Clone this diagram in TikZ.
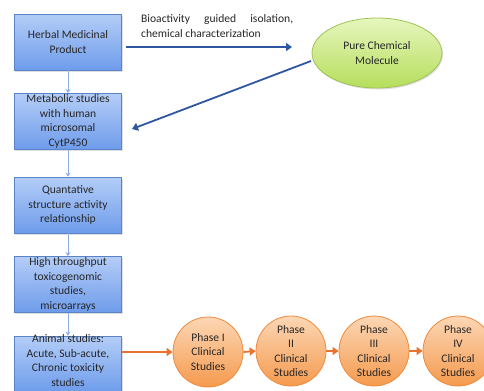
\documentclass[tikz,border=0pt]{standalone}
\usepackage{fontspec}
\setmainfont{Carlito}
\usetikzlibrary{arrows.meta,shapes.geometric,shadows}
\definecolor{boxtop}{HTML}{B4CDF7}
\definecolor{boxbot}{HTML}{6E9CEB}
\definecolor{boxline}{HTML}{5B84C8}
\definecolor{darkarrow}{HTML}{2F56A0}
\definecolor{lightarrow}{HTML}{8FAEE0}
\definecolor{eltop}{HTML}{E6F6BE}
\definecolor{elbot}{HTML}{B6DE5C}
\definecolor{elline}{HTML}{9FC255}
\definecolor{ortop}{HTML}{FCD7B5}
\definecolor{orbot}{HTML}{F59A4E}
\definecolor{orline}{HTML}{F08A3C}
\definecolor{orarrow}{HTML}{E8722E}
\definecolor{txt}{HTML}{262626}
\tikzset{
  stepbox/.style={draw=boxline, line width=0.8bp, top color=boxtop, bottom color=boxbot,
    minimum width=107bp, minimum height=56bp, inner sep=0pt,
    drop shadow={opacity=0.25, shadow xshift=1bp, shadow yshift=-1.5bp}},
  boxtext/.style={align=center, text=txt, font=\fontsize{11.6}{14.8}\selectfont},
  phase/.style={circle, draw=orline, line width=0.8bp, top color=ortop, bottom color=orbot,
    minimum size=70bp, inner sep=0pt, align=center, text=txt,
    font=\fontsize{11.6}{14.6}\selectfont},
  vlink/.style={draw=lightarrow, line width=0.8bp, -{Stealth[length=4bp,width=5bp]}},
  blink/.style={draw=darkarrow, line width=1.8bp, -{Triangle[length=6bp,width=8bp]}},
  olink/.style={draw=orarrow, line width=1.8bp, -{Triangle[length=6bp,width=8bp]}},
}
\begin{document}
\begin{tikzpicture}[x=1bp,y=-1bp]
\useasboundingbox (0,0) rectangle (484,390);
\begin{scope}
\clip (0,0) rectangle (484,390);
\node[stepbox] (b1) at (68,42) {};
\node[stepbox] (b2) at (68,121.5) {};
\node[stepbox] (b3) at (68,205) {};
\node[stepbox] (b4) at (68,284.5) {};
\node[stepbox] (b5) at (68,364) {};
\node[boxtext] (t1) at (b1.center) {Herbal Medicinal\\Product};
\node[boxtext] (t2) at (b2.center) {Metabolic studies\\with human\\microsomal\\CytP450};
\node[boxtext] (t3) at (b3.center) {Quantative\\structure activity\\relationship};
\node[boxtext] (t4) at (b4.center) {High throughput\\toxicogenomic\\studies,\\microarrays};
\node[boxtext, font=\fontsize{11.6}{14.4}\selectfont] (t5) at ([yshift=3.5bp]b5.center) {Animal studies:\\Acute, Sub-acute,\\Chronic toxicity\\studies};

\node[ellipse, draw=elline, line width=0.8bp, top color=eltop, bottom color=elbot,
  minimum width=130bp, minimum height=70bp, inner sep=0pt, align=center, text=txt,
  font=\fontsize{11.6}{14.8}\selectfont,
  drop shadow={opacity=0.25, shadow xshift=1bp, shadow yshift=-1.5bp}] (mol) at (377,53) {Pure Chemical\\Molecule};

\node[phase] (p1) at (208,352) {Phase I\\Clinical\\Studies};
\node[phase] (p2) at (291,351) {Phase\\II\\Clinical\\Studies};
\node[phase] (p3) at (374,351) {Phase\\III\\Clinical\\Studies};
\node[phase] (p4) at (458,351) {Phase\\IV\\Clinical\\Studies};

\node[text width=152bp, align=justify, text=txt, inner sep=0pt,
  font=\fontsize{11.6}{14.8}\selectfont, anchor=north west] (lab) at (141,14.5)
  {\hyphenpenalty=10000 Bioactivity guided isolation, chemical characterization};

\coordinate (a1s) at (126,47);
\coordinate (a1e) at (292,47);
\draw[blink] (a1s) -- (a1e);
\coordinate (d1) at (311,61);
\coordinate (d2) at (132,129);
\draw[blink] (d1) -- (d2);

\draw[vlink] (b1.south) -- (b2.north);
\draw[vlink] (b2.south) -- (b3.north);
\draw[vlink] (b3.south) -- (b4.north);
\draw[vlink] (b4.south) -- (b5.north);

\draw[olink] (b5.east |- p1.west) -- (p1.west);
\draw[olink] (p1.east) -- (p2.west);
\draw[olink] (p2.east) -- (p3.west);
\draw[olink] (p3.east) -- (p4.west);
\end{scope}
\end{tikzpicture}
\end{document}
